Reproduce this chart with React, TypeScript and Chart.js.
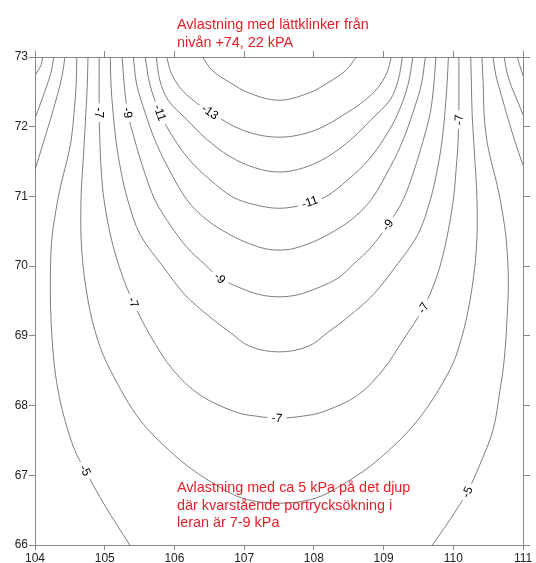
import React, { useEffect, useRef } from 'react';
import { Chart, registerables } from 'chart.js';

Chart.register(...registerables);

// Axis ranges / ticks
const xTicksMin = 104;
const xTicksMax = 111;
const yTicksMin = 66;
const yTicksMax = 73;

// Contour lines (level in kPa), x = horizontal coordinate, y = level (m)
const c14x = [106.40, 106.54, 106.80, 107.08, 107.50, 107.92, 108.20, 108.46, 108.61];
const c14y = [73, 72.81, 72.63, 72.48, 72.38, 72.48, 72.63, 72.81, 73];

const c13x = [105.89, 105.95, 106.08, 106.28, 106.51, 106.98, 107.50, 108.02, 108.49, 108.72, 108.92, 109.05, 109.11];
const c13y = [73, 72.78, 72.56, 72.37, 72.21, 71.95, 71.85, 71.95, 72.21, 72.37, 72.56, 72.78, 73];

const c12x = [105.74, 105.79, 105.91, 106.18, 106.44, 106.80, 107.16, 107.50, 107.85, 108.20, 108.56, 108.82, 109.09, 109.21, 109.27];
const c12y = [73, 72.67, 72.38, 72.10, 71.84, 71.57, 71.41, 71.35, 71.41, 71.57, 71.84, 72.10, 72.38, 72.67, 73];

const c11x = [105.58, 105.65, 105.79, 105.98, 106.22, 106.51, 106.84, 107.16, 107.50, 107.85, 108.16, 108.49, 108.78, 109.02, 109.21, 109.35, 109.42];
const c11y = [73, 72.60, 72.20, 71.85, 71.52, 71.24, 70.99, 70.88, 70.83, 70.88, 70.99, 71.24, 71.52, 71.85, 72.20, 72.60, 73];

const c10x = [105.41, 105.46, 105.58, 105.72, 105.89, 106.18, 106.47, 106.80, 107.08, 107.30, 107.50, 107.70, 107.92, 108.20, 108.53, 108.82, 109.11, 109.28, 109.42, 109.54, 109.60];
const c10y = [73, 72.60, 72.20, 71.81, 71.45, 70.95, 70.66, 70.45, 70.32, 70.25, 70.23, 70.25, 70.32, 70.45, 70.66, 70.95, 71.45, 71.81, 72.20, 72.60, 73];

const c9x = [105.25, 105.28, 105.33, 105.43, 105.56, 105.72, 105.94, 106.18, 106.44, 106.65, 106.94, 107.23, 107.50, 107.77, 108.06, 108.35, 108.56, 108.82, 109.06, 109.28, 109.44, 109.57, 109.67, 109.72, 109.75];
const c9y = [73, 72.60, 72.20, 71.81, 71.38, 70.95, 70.59, 70.27, 70.02, 69.83, 69.69, 69.59, 69.56, 69.59, 69.69, 69.83, 70.02, 70.27, 70.59, 70.95, 71.38, 71.81, 72.20, 72.60, 73];

const c8x = [105.08, 105.09, 105.12, 105.16, 105.23, 105.33, 105.51, 105.84, 106.15, 106.51, 106.80, 107.08, 107.50, 107.92, 108.20, 108.49, 108.85, 109.17, 109.49, 109.67, 109.77, 109.84, 109.88, 109.91, 109.93];
const c8y = [73, 72.60, 72.20, 71.81, 71.38, 70.95, 70.45, 69.99, 69.59, 69.27, 69.05, 68.85, 68.77, 68.85, 69.05, 69.27, 69.59, 69.99, 70.45, 70.95, 71.38, 71.81, 72.20, 72.60, 73];

const c7x = [104.92, 104.92, 104.92, 104.93, 104.95, 104.99, 105.10, 105.25, 105.41, 105.65, 105.98, 106.37, 106.87, 107.16, 107.50, 107.85, 108.13, 108.63, 108.99, 109.28, 109.57, 109.77, 109.90, 110.00, 110.04, 110.07, 110.08, 110.08, 110.08];
const c7y = [73, 72.60, 72.20, 71.81, 71.38, 70.95, 70.37, 69.87, 69.48, 69.01, 68.51, 68.15, 67.91, 67.85, 67.82, 67.85, 67.91, 68.15, 68.51, 68.94, 69.40, 69.87, 70.37, 70.95, 71.38, 71.81, 72.20, 72.60, 73];

const c6x = [104.76, 104.75, 104.73, 104.70, 104.66, 104.67, 104.76, 104.90, 105.08, 105.51, 106.08, 106.55, 106.98, 107.50, 108.02, 108.45, 108.92, 109.49, 109.95, 110.11, 110.24, 110.33, 110.34, 110.30, 110.27, 110.26, 110.25];
const c6y = [73, 72.60, 72.20, 71.67, 70.95, 70.23, 69.51, 68.94, 68.51, 67.79, 67.22, 66.89, 66.67, 66.60, 66.67, 66.89, 67.22, 67.79, 68.51, 68.94, 69.51, 70.23, 70.95, 71.67, 72.20, 72.60, 73];

const c5Lx = [104.60, 104.59, 104.56, 104.52, 104.46, 104.37, 104.30, 104.24, 104.22, 104.23, 104.27, 104.33, 104.43, 104.57, 104.72, 105.00, 105.36];
const c5Ly = [73, 72.60, 72.20, 71.81, 71.52, 71.16, 70.80, 70.37, 69.80, 69.23, 68.65, 68.22, 67.79, 67.36, 67.07, 66.57, 66];

const c5Rx = [110.41, 110.43, 110.44, 110.48, 110.54, 110.63, 110.70, 110.76, 110.79, 110.77, 110.73, 110.67, 110.57, 110.38, 110.20, 109.95, 109.70];
const c5Ry = [73, 72.60, 72.20, 71.81, 71.52, 71.16, 70.80, 70.37, 69.80, 69.23, 68.65, 68.22, 67.65, 67.15, 66.76, 66.36, 66];

const c4Lx = [104.43, 104.39, 104.32, 104.22, 104.11, 104.00];
const c4Ly = [73, 72.74, 72.45, 72.10, 71.74, 71.38];
const c4Rx = [110.57, 110.61, 110.69, 110.79, 110.90, 111.00];
const c4Ry = [73, 72.74, 72.45, 72.10, 71.74, 71.45];

const c3Lx = [104.27, 104.23, 104.16, 104.07, 104.00];
const c3Ly = [73, 72.78, 72.56, 72.31, 72.12];
const c3Rx = [110.73, 110.77, 110.84, 110.93, 111.00];
const c3Ry = [73, 72.78, 72.56, 72.35, 72.17];

const c2Lx = [104.11, 104.09, 104.04, 104.00];
const c2Ly = [73, 72.89, 72.80, 72.73];
const c2Rx = [110.92, 110.95, 110.98, 111.00];
const c2Ry = [73, 72.89, 72.80, 72.73];

// Contour labels
const labelText = ['-7', '-9', '-11', '-13', '-7', '-11', '-9', '-7', '-9', '-7', '-7', '-5', '-5'];
const labelX = [104.92, 105.33, 105.79, 106.51, 110.08, 107.94, 109.06, 109.57, 106.65, 105.41, 107.47, 104.72, 110.20];
const labelY = [72.20, 72.20, 72.20, 72.21, 72.10, 70.92, 70.59, 69.40, 69.83, 69.48, 67.82, 67.07, 66.76];
// index into the series list below
const labelSeries = [7, 5, 3, 1, 7, 3, 5, 7, 5, 7, 7, 9, 10];

const titleLines = ['Avlastning med lättklinker från', 'nivån +74, 22 kPA'];
const noteLines = ['Avlastning med ca 5 kPa på det djup', 'där kvarstående portrycksökning i', 'leran är 7-9 kPa'];

const LINE = '#7e7e7e';
const AXIS = '#888888';
const RED = '#e4202a';
const FONT = '"Liberation Sans", Arial, Helvetica, sans-serif';

export default function App() {
  const ref = useRef<HTMLCanvasElement>(null);

  useEffect(() => {
    const series: number[][][] = [
      [c14x, c14y], [c13x, c13y], [c12x, c12y], [c11x, c11y], [c10x, c10y],
      [c9x, c9y], [c8x, c8y], [c7x, c7y], [c6x, c6y],
      [c5Lx, c5Ly], [c5Rx, c5Ry], [c4Lx, c4Ly], [c4Rx, c4Ry],
      [c3Lx, c3Ly], [c3Rx, c3Ry], [c2Lx, c2Ly], [c2Rx, c2Ry],
    ];
    const datasets = series.map(([xs, ys]) => ({
      data: xs.map((x, i) => ({ x, y: ys[i] })),
      showLine: true,
      borderColor: LINE,
      borderWidth: 1,
      pointRadius: 0,
      pointHoverRadius: 0,
      tension: 0.35,
      fill: false,
    }));

    const labelPlugin = {
      id: 'contourLabels',
      afterDatasetsDraw(chart: any) {
        const ctx = chart.ctx;
        const sx = chart.scales.x;
        const sy = chart.scales.y;
        ctx.save();
        ctx.font = `12px ${FONT}`;
        ctx.textAlign = 'center';
        ctx.textBaseline = 'middle';
        labelText.forEach((t, i) => {
          const px = sx.getPixelForValue(labelX[i]);
          const py = sy.getPixelForValue(labelY[i]);
          const [xs, ys] = series[labelSeries[i]];
          let best = Infinity;
          let ang = 0;
          for (let k = 0; k < xs.length - 1; k++) {
            const ax = sx.getPixelForValue(xs[k]);
            const ay = sy.getPixelForValue(ys[k]);
            const bx = sx.getPixelForValue(xs[k + 1]);
            const by = sy.getPixelForValue(ys[k + 1]);
            const dx = bx - ax;
            const dy = by - ay;
            const len2 = dx * dx + dy * dy || 1;
            let u = ((px - ax) * dx + (py - ay) * dy) / len2;
            u = Math.max(0, Math.min(1, u));
            const qx = ax + u * dx;
            const qy = ay + u * dy;
            const d = Math.hypot(px - qx, py - qy);
            if (d < best) {
              best = d;
              ang = Math.atan2(dy, dx);
            }
          }
          while (ang > Math.PI / 2 + 1e-6) ang -= Math.PI;
          while (ang <= -Math.PI / 2 + 1e-6) ang += Math.PI;
          const w = ctx.measureText(t).width;
          ctx.save();
          ctx.translate(px, py);
          ctx.rotate(ang);
          ctx.fillStyle = '#ffffff';
          ctx.fillRect(-w / 2 - 4, -6, w + 8, 12);
          ctx.fillStyle = '#000000';
          ctx.fillText(t, 0, 0.5);
          ctx.restore();
        });
        ctx.restore();
      },
    };

    const tickFont = { family: FONT, size: 12 };
    const chart = new Chart(ref.current as HTMLCanvasElement, {
      type: 'scatter',
      data: { datasets: datasets as any },
      options: {
        animation: false,
        responsive: false,
        events: [],
        layout: { padding: 0 },
        plugins: { legend: { display: false }, tooltip: { enabled: false } },
        scales: {
          x: {
            type: 'linear',
            position: 'bottom',
            min: xTicksMin,
            max: xTicksMax,
            ticks: { stepSize: 1, padding: 1, color: '#222', font: tickFont, maxRotation: 0 },
            grid: { drawOnChartArea: false, drawTicks: true, tickLength: 5, color: AXIS },
            border: { color: AXIS },
            afterFit: (s: any) => { s.height = 18; },
          },
          x2: {
            type: 'linear',
            position: 'top',
            min: xTicksMin,
            max: xTicksMax,
            ticks: { stepSize: 1, display: false },
            grid: { drawOnChartArea: false, drawTicks: true, tickLength: 6, color: AXIS },
            border: { color: AXIS },
            afterFit: (s: any) => { s.height = 57; },
          },
          y: {
            type: 'linear',
            position: 'left',
            min: yTicksMin,
            max: yTicksMax,
            ticks: { stepSize: 1, padding: 1, color: '#222', font: tickFont },
            grid: { drawOnChartArea: false, drawTicks: true, tickLength: 6, color: AXIS },
            border: { color: AXIS },
            afterFit: (s: any) => { s.width = 35; },
          },
          y2: {
            type: 'linear',
            position: 'right',
            min: yTicksMin,
            max: yTicksMax,
            ticks: { stepSize: 1, display: false },
            grid: { drawOnChartArea: false, drawTicks: true, tickLength: 7, color: AXIS },
            border: { color: AXIS },
            afterFit: (s: any) => { s.width = 13; },
          },
        },
      } as any,
      plugins: [labelPlugin],
    });
    return () => chart.destroy();
  }, []);

  const textStyle: React.CSSProperties = {
    position: 'absolute',
    left: 177,
    color: RED,
    fontFamily: FONT,
    fontSize: 14.4,
    whiteSpace: 'nowrap',
  };

  return (
    <div style={{ position: 'absolute', left: 0, top: 0, width: 536, height: 563, background: '#fff', overflow: 'hidden' }}>
      <canvas ref={ref} width={536} height={563} style={{ width: 536, height: 563, display: 'block' }} />
      <div style={{ ...textStyle, top: 15, lineHeight: '18px' }}>
        {titleLines.map((l) => (<div key={l}>{l}</div>))}
      </div>
      <div style={{ ...textStyle, top: 479, lineHeight: '17.7px' }}>
        {noteLines.map((l) => (<div key={l}>{l}</div>))}
      </div>
    </div>
  );
}
